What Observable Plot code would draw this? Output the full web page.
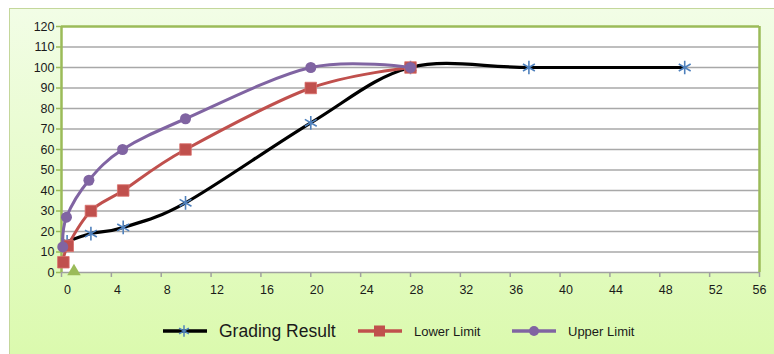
<!DOCTYPE html>
<html>
<head>
<meta charset="utf-8">
<script src="https://cdn.jsdelivr.net/npm/d3@7"></script>
<script src="https://cdn.jsdelivr.net/npm/@observablehq/plot@0.6"></script>
<style>
  html, body { margin: 0; padding: 0; background: #ffffff; width: 774px; height: 354px; overflow: hidden; }
  #chart {
    position: absolute; left: 9px; top: 8px; width: 765px; height: 346px;
    box-sizing: border-box;
    border-left: 1px solid #c4d79b; border-top: 1px solid #c4d79b;
    background: linear-gradient(#f2fde6, #dbfaae);
    font-family: "Liberation Sans", Arial, sans-serif;
  }
  #legend { display: flex; align-items: center; height: 44px; margin-left: 153px; color: #1a1a1a; }
  .item { display: flex; align-items: center; }
  .item svg { margin-right: 12px; }
</style>
</head>
<body>
<div id="chart"></div>
<script>
// ---- data ----
const xTicks = [0, 4, 8, 12, 16, 20, 24, 28, 32, 36, 40, 44, 48, 52, 56];
const yTicks = [0, 10, 20, 30, 40, 50, 60, 70, 80, 90, 100, 110, 120];

const gradingX = [0.45, 2.36, 4.95, 9.95, 20, 28, 37.5, 50];
const gradingY = [15, 19, 22, 34, 73, 100, 100, 100];

const lowerX = [0.15, 0.5, 2.36, 4.95, 9.95, 20, 28];
const lowerY = [5, 13, 30, 40, 60, 90, 100];

const upperX = [0.1, 0.4, 2.2, 4.9, 9.95, 20, 28];
const upperY = [12.5, 27, 45, 60, 75, 100, 100];

const extraX = [1];
const extraY = [0.5];

const seriesNames = ["Grading Result", "Lower Limit", "Upper Limit"];

// ---- build ----
const zip = (xs, ys) => xs.map((x, i) => ({x, y: ys[i]}));
const grading = zip(gradingX, gradingY);
const lower = zip(lowerX, lowerY);
const upper = zip(upperX, upperY);
const extra = zip(extraX, extraY);

const C = {black: "#000000", red: "#c0504d", purple: "#8064a2", blue: "#4f81bd", green: "#9bbb59"};

const plot = Plot.plot({
  width: 764,
  height: 300,
  marginLeft: 51,
  marginRight: 15,
  marginTop: 17,
  marginBottom: 37,
  style: {background: "transparent", fontFamily: "Liberation Sans, Arial, sans-serif", fontSize: "12.5px", color: "#1a1a1a"},
  x: {domain: [0, 56], label: null},
  y: {domain: [0, 120], label: null},
  marks: [
    Plot.frame({fill: "white", stroke: "none"}),
    Plot.gridY(yTicks.filter(d => d > 0 && d < 120), {stroke: "#a8a8a8", strokeOpacity: 1, strokeWidth: 1.6}),
    // axes lines
    Plot.ruleY([0], {stroke: "#a0a0a0", strokeWidth: 1.6}),
    Plot.ruleY([120], {stroke: C.green, strokeWidth: 2.5}),
    Plot.ruleX([56], {stroke: C.green, strokeWidth: 2.5}),
    Plot.ruleX([0], {stroke: C.green, strokeWidth: 2.5}),
    Plot.axisY(yTicks, {tickSize: 5, tickPadding: 2, stroke: C.green, strokeWidth: 1.5, fill: "#1a1a1a", label: null}),
    Plot.axisX(xTicks, {tickSize: 5, tickFormat: () => "", stroke: "#a0a0a0", strokeWidth: 1.5, label: null}),
    Plot.axisX(xTicks.slice(0, -1), {tickSize: 0, tickPadding: 13, dx: 6, fill: "#1a1a1a", label: null}),
    Plot.axisX(xTicks.slice(-1), {tickSize: 0, tickPadding: 13, fill: "#1a1a1a", label: null}),
    // series
    Plot.line(grading, {x: "x", y: "y", stroke: C.black, strokeWidth: 3.2, curve: "cardinal"}),
    Plot.dot(grading, {x: "x", y: "y", symbol: "asterisk", r: 6.5, stroke: C.blue, strokeWidth: 1.6}),
    Plot.line(lower, {x: "x", y: "y", stroke: C.red, strokeWidth: 3, curve: "cardinal"}),
    Plot.dot(lower, {x: "x", y: "y", symbol: "square", r: 6.5, fill: C.red, stroke: "#d9706c", strokeWidth: 0.8}),
    Plot.line(upper, {x: "x", y: "y", stroke: C.purple, strokeWidth: 3, curve: "cardinal"}),
    Plot.dot(upper, {x: "x", y: "y", symbol: "circle", r: 5.5, fill: C.purple}),
    Plot.dot(extra, {x: "x", y: "y", symbol: "triangle", r: 5, fill: C.green})
  ]
});

const chart = document.getElementById("chart");
chart.appendChild(plot);

// ---- legend ----
const legend = document.createElement("div");
legend.id = "legend";
const specs = [
  {name: seriesNames[0], line: C.black, marker: "asterisk", mcol: C.blue, size: "17.5px", width: 120, gap: 19},
  {name: seriesNames[1], line: C.red, marker: "square", mcol: C.red, size: "13px", width: 78, gap: 20},
  {name: seriesNames[2], line: C.purple, marker: "circle", mcol: C.purple, size: "13px", width: 78, gap: 0}
];
for (const s of specs) {
  const item = document.createElement("div");
  item.className = "item";
  const sw = d3.create("svg").attr("width", 44).attr("height", 14);
  sw.append("line").attr("x1", 0).attr("x2", 44).attr("y1", 7).attr("y2", 7)
    .attr("stroke", s.line).attr("stroke-width", 3.5);
  if (s.marker === "asterisk") {
    sw.append("path").attr("transform", "translate(21,7)")
      .attr("d", d3.symbol(d3.symbolAsterisk, 90)())
      .attr("fill", "none").attr("stroke", s.mcol).attr("stroke-width", 1.5);
  } else if (s.marker === "square") {
    sw.append("rect").attr("x", 16).attr("y", 1.5).attr("width", 11).attr("height", 11).attr("fill", s.mcol);
  } else {
    sw.append("circle").attr("cx", 22).attr("cy", 7).attr("r", 5).attr("fill", s.mcol);
  }
  item.appendChild(sw.node());
  const t = document.createElement("span");
  t.textContent = s.name;
  t.style.fontSize = s.size;
  t.style.display = "inline-block";
  t.style.width = s.width + "px";
  t.style.whiteSpace = "nowrap";
  t.style.marginRight = s.gap + "px";
  item.appendChild(t);
  legend.appendChild(item);
}
chart.appendChild(legend);
</script>
</body>
</html>
